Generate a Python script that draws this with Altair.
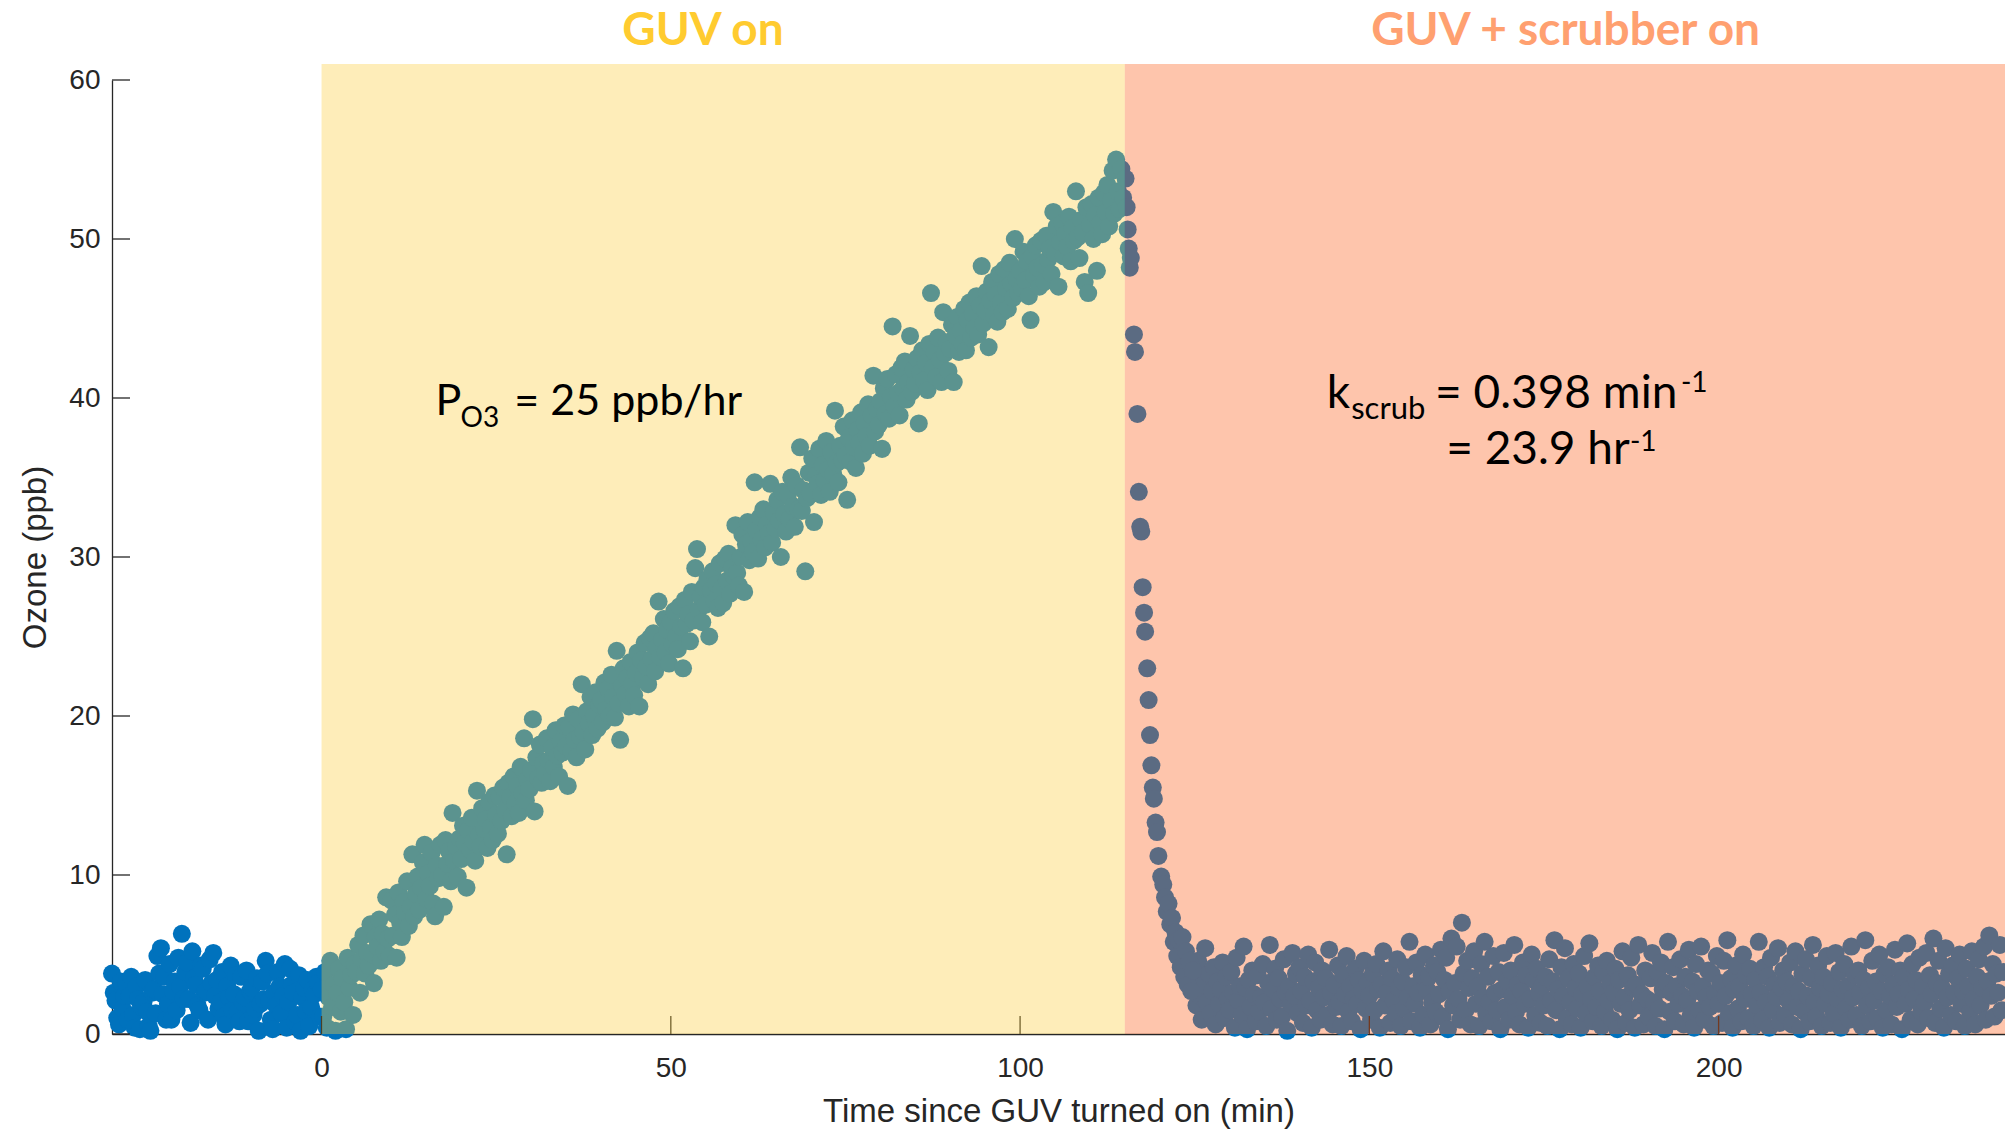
import altair as alt
import pandas as pd

# ---------------- data ----------------
STEP = 0.25  # sampling interval (min)

PRE_START = -30.0
PRE_Y = [
    3.8, 2.6, 2.1, 1.0, 0.6, 3.3, 1.6, 2.4, 3.2, 0.9, 2.4, 3.6, 1.2, 0.4, 3.0, 2.2, 0.3, 1.7, 2.0, 3.4,
    1.4, 0.5, 0.2, 2.6, 2.8, 1.3, 4.9, 3.8, 5.4, 2.5, 3.6, 0.9, 1.9, 4.4, 0.9, 2.7, 3.3, 1.5, 4.8, 3.0,
    6.3, 2.2, 3.9, 4.5, 2.2, 0.7, 5.2, 3.5, 3.1, 1.8, 1.5, 4.3, 4.1, 2.6, 2.7, 0.9, 4.7, 3.2, 5.1, 2.4,
    3.4, 1.6, 2.0, 3.9, 1.1, 0.6, 3.0, 2.3, 4.3, 1.5, 2.5, 3.7, 1.4, 0.8, 3.6, 2.0, 2.3, 4.0, 0.8, 2.7,
    2.9, 1.2, 1.6, 3.5, 0.2, 1.9, 3.3, 2.2, 4.6, 3.8, 2.1, 0.9, 0.3, 2.6, 1.8, 3.9, 3.0, 1.3, 2.4, 4.4,
    0.4, 2.0, 4.1, 3.1, 2.6, 0.8, 1.2, 3.7, 0.2, 2.3, 2.9, 1.4, 3.4, 0.5, 1.7, 2.8, 2.5, 3.6, 3.2, 1.1,
]

RAMP_START = 0.0
RAMP_Y = [
    2.8, 1.1, 3.9, 0.4, 2.3, 4.6, 1.7, 3.1, 0.2, 2.6, 4.1, 1.4, 3.5, 2.0, 0.3, 4.8, 2.9, 3.7, 1.2, 4.4,
    3.9, 5.6, 2.6, 4.7, 6.2, 3.8, 5.1, 4.3, 6.9, 5.0, 3.2, 6.1, 5.5, 7.2, 4.6, 6.3, 5.2, 8.6, 6.0, 4.9,
    8.4, 6.2, 7.5, 4.8, 8.9, 7.0, 6.1, 8.3, 7.6, 9.6, 6.8, 8.0, 11.3, 7.4, 8.8, 9.9, 7.8, 9.2, 10.8, 11.9,
    8.5, 10.1, 9.3, 11.4, 8.2, 7.4, 10.6, 9.8, 11.9, 10.0, 8.0, 12.2, 10.7, 11.5, 9.6, 13.9, 10.9, 11.8, 9.9, 12.3,
    11.0, 13.1, 12.0, 9.2, 12.8, 11.6, 13.6, 12.1, 10.9, 15.3, 12.5, 11.8, 14.2, 12.9, 13.5, 11.7, 14.6, 13.0, 12.2, 15.0,
    13.8, 12.6, 14.9, 13.4, 15.5, 14.1, 11.3, 15.8, 14.9, 13.7, 16.2, 14.5, 15.6, 13.9, 16.8, 15.1, 18.6, 14.7, 16.0, 15.4,
    16.6, 19.8, 14.0, 17.4, 16.1, 18.2, 15.8, 17.0, 16.4, 18.6, 17.2, 15.9, 18.0, 16.8, 19.1, 17.5, 16.2, 18.4, 17.7, 19.4,
    18.1, 15.6, 19.3, 17.8, 20.1, 18.5, 17.4, 19.8, 18.7, 22.0, 19.0, 17.9, 20.3, 19.5, 21.2, 18.8, 20.0, 21.5, 19.2, 20.7,
    21.0, 19.6, 22.1, 20.4, 21.7, 20.0, 22.6, 21.2, 19.9, 24.1, 20.8, 18.5, 21.9, 23.0, 21.4, 22.4, 20.6, 23.4, 22.0, 21.3,
    22.7, 24.0, 20.6, 23.5, 22.4, 24.6, 23.1, 22.0, 24.9, 23.6, 25.2, 22.8, 24.3, 27.2, 23.7, 24.8, 26.1, 24.0, 25.4, 23.3,
    25.9, 24.5, 26.6, 25.0, 24.2, 26.9, 25.6, 23.0, 27.3, 25.8, 26.4, 24.7, 27.8, 26.0, 29.3, 30.5, 26.7, 27.5, 25.9, 28.1,
    27.0, 28.6, 25.0, 27.9, 29.1, 27.2, 28.3, 26.8, 29.6, 28.0, 27.1, 29.9, 28.5, 30.2, 27.7, 29.3, 28.8, 32.0, 29.0, 28.2,
    30.0, 31.4, 27.8, 30.8, 32.2, 29.8, 31.0, 30.3, 34.7, 31.7, 29.9, 32.5, 31.1, 33.0, 30.6, 32.0, 31.5, 34.6, 30.9, 32.8,
    31.8, 33.6, 32.3, 30.0, 34.1, 32.7, 31.6, 33.9, 32.4, 35.0, 33.2, 31.9, 34.5, 33.0, 36.9, 32.9, 34.2, 29.1, 33.7, 35.3,
    34.0, 36.2, 32.2, 35.1, 34.6, 36.8, 33.9, 35.8, 34.8, 37.3, 35.5, 34.1, 36.6, 35.2, 39.2, 35.9, 34.7, 37.0, 36.1, 38.2,
    36.4, 33.6, 37.5, 36.0, 38.6, 36.9, 35.6, 38.0, 37.2, 39.1, 36.5, 38.4, 37.6, 39.6, 37.0, 38.9, 41.4, 37.9, 39.3, 38.3,
    39.8, 36.8, 40.6, 39.0, 41.2, 38.7, 40.1, 44.5, 39.5, 41.5, 40.3, 38.9, 41.9, 40.6, 42.3, 39.9, 41.0, 43.9, 40.4, 41.8,
    40.9, 42.5, 38.4, 41.6, 43.0, 41.1, 42.2, 40.5, 43.4, 46.6, 41.9, 42.9, 41.3, 43.8, 42.4, 41.0, 45.4, 42.8, 43.5, 41.7,
    43.1, 44.6, 41.0, 43.9, 45.1, 42.9, 44.2, 43.4, 45.6, 43.0, 44.9, 46.0, 43.8, 45.3, 44.4, 46.4, 44.0, 45.8, 48.3, 44.7,
    45.5, 46.7, 43.2, 46.1, 47.3, 45.2, 46.5, 44.8, 47.8, 46.0, 45.4, 48.1, 46.9, 45.6, 48.5, 47.2, 46.3, 50.0, 47.5, 46.6,
    48.0, 46.9, 49.2, 47.4, 48.6, 46.4, 44.9, 48.9, 47.7, 49.6, 48.2, 47.0, 49.9, 48.4, 47.3, 50.2, 48.7, 49.4, 47.8, 51.7,
    49.1, 50.8, 47.0, 49.8, 51.0, 48.9, 50.3, 49.5, 51.4, 48.6, 50.7, 49.9, 53.0, 50.1, 48.8, 51.2, 50.4, 47.3, 52.0, 46.6,
    50.9, 52.2, 50.0, 51.5, 48.0, 52.6, 51.0, 50.3, 52.9, 51.7, 53.4, 50.8, 52.4, 54.3, 51.6, 55.0, 53.0, 51.9, 54.4, 52.6,
]

DECAY_T = [115.1, 115.25, 115.4, 115.55, 115.7, 115.85, 116.3, 116.45, 116.8, 117.0, 117.2, 117.35,
           117.55, 117.75, 117.9, 118.2, 118.4, 118.6, 118.8, 119.0, 119.15, 119.4, 119.6, 119.8,
           120.2, 120.5, 120.75, 121.0, 121.25, 121.5, 121.75, 122.0, 122.25, 122.5, 122.75, 123.0,
           123.25, 123.5, 123.75, 124.0, 124.25, 124.5, 124.75]
DECAY_Y = [53.8, 52.0, 50.6, 49.4, 48.2, 48.8, 44.0, 42.9, 39.0, 34.1, 31.9, 31.6,
           28.1, 26.5, 25.3, 23.0, 21.0, 18.8, 16.9, 15.5, 14.8, 13.3, 12.7, 11.2,
           9.9, 9.4, 8.6, 7.7, 8.2, 6.9, 7.3, 5.8, 6.4, 4.9, 5.9, 4.2,
           6.1, 3.6, 5.2, 3.1, 4.6, 2.7, 4.0]

POST_START = 125.0
POST_Y = [
    3.5, 1.8, 4.6, 2.4, 0.9, 3.1, 5.4, 2.0, 3.8, 1.3, 2.7, 4.2, 0.6, 3.3, 1.9, 2.8, 4.5, 1.0, 3.6, 2.2,
    1.5, 3.9, 2.6, 0.4, 4.8, 2.1, 3.0, 1.2, 5.5, 2.9, 0.3, 3.4, 1.7, 4.0, 2.5, 0.8, 3.7, 1.4, 2.3, 4.4,
    2.0, 0.5, 3.2, 5.6, 1.6, 2.8, 4.1, 0.9, 3.5, 2.2, 1.1, 4.7, 2.6, 0.2, 3.0, 1.9, 5.1, 2.4, 3.8, 1.3,
    4.2, 2.7, 0.7, 3.6, 1.8, 5.0, 2.1, 0.4, 3.3, 4.5, 1.5, 2.9, 0.9, 4.0, 2.3, 3.5, 1.2, 5.3, 2.6, 0.6,
    3.1, 1.7, 4.3, 2.0, 0.5, 3.7, 2.5, 4.9, 1.4, 3.0, 0.8, 2.2, 4.1, 1.9, 3.4, 0.3, 2.7, 4.6, 1.6, 3.2,
    2.4, 0.9, 3.8, 1.5, 4.4, 2.8, 0.4, 3.1, 5.2, 1.8, 2.6, 4.0, 0.7, 3.5, 2.1, 1.3, 4.7, 2.9, 0.5, 3.3,
    1.6, 4.2, 2.3, 5.8, 0.8, 3.0, 1.9, 4.5, 2.6, 0.4, 3.7, 1.2, 5.0, 2.8, 3.6, 0.6, 2.0, 4.3, 1.4, 3.9,
    2.5, 5.3, 1.1, 3.4, 4.8, 0.3, 2.7, 6.0, 1.8, 3.2, 5.5, 2.2, 0.9, 7.0, 3.8, 1.5, 4.6, 2.9, 0.6, 3.5,
    5.2, 1.9, 3.0, 0.5, 4.4, 2.3, 5.8, 1.3, 3.6, 2.0, 0.8, 4.9, 2.6, 1.5, 3.9, 0.3, 2.8, 5.1, 1.7, 3.3,
    0.9, 4.0, 2.4, 5.6, 1.4, 3.1, 0.6, 2.7, 4.5, 1.9, 3.7, 0.4, 2.2, 5.0, 3.4, 1.2, 4.1, 2.6, 0.7, 3.0,
    1.8, 3.6, 0.5, 4.7, 2.1, 3.3, 5.9, 1.5, 2.8, 0.3, 4.2, 2.4, 5.4, 1.0, 3.5, 2.0, 0.6, 4.4, 2.9, 1.6,
    3.8, 0.4, 2.5, 4.9, 1.3, 3.0, 5.7, 2.2, 0.8, 3.6, 1.7, 4.3, 2.7, 0.5, 3.9, 1.4, 4.6, 2.1, 3.2, 0.9,
    2.6, 4.1, 0.3, 3.4, 1.9, 5.2, 2.3, 0.7, 3.7, 1.5, 4.8, 2.9, 0.4, 3.1, 5.6, 1.8, 2.5, 0.6, 4.0, 2.2,
    1.1, 3.5, 5.1, 2.0, 0.5, 3.9, 1.6, 4.5, 2.8, 0.3, 3.2, 5.8, 1.4, 2.6, 4.2, 0.8, 3.0, 1.9, 4.7, 2.4,
    0.6, 3.6, 2.1, 5.3, 1.2, 3.3, 0.4, 4.4, 2.7, 1.5, 5.5, 3.0, 0.9, 2.3, 4.0, 1.7, 3.8, 0.5, 2.6, 4.9,
    1.9, 3.2, 0.7, 4.6, 2.4, 5.9, 1.3, 3.5, 0.4, 2.8, 4.3, 1.6, 3.0, 0.8, 5.0, 2.2, 3.7, 1.0, 4.1, 2.5,
    0.5, 3.4, 1.8, 5.8, 2.6, 0.9, 4.2, 2.0, 3.6, 0.4, 4.8, 1.5, 3.1, 2.3, 5.4, 0.7, 2.9, 4.0, 1.2, 3.3,
    2.1, 4.5, 0.6, 3.0, 5.2, 1.7, 2.7, 0.3, 3.8, 1.4, 4.7, 2.4, 0.8, 3.5, 5.6, 2.0, 1.1, 4.3, 2.9, 0.5,
    3.6, 1.9, 4.9, 2.5, 0.7, 3.2, 1.3, 5.1, 2.2, 3.9, 0.4, 2.8, 4.4, 1.6, 3.0, 0.9, 5.5, 2.3, 3.7, 1.2,
    4.0, 2.6, 0.5, 3.4, 5.9, 1.8, 2.9, 0.8, 4.6, 2.1, 3.3, 1.0, 5.0, 2.7, 0.4, 3.8, 1.5, 4.2, 2.4, 0.6,
    3.1, 5.3, 1.7, 2.5, 4.0, 0.3, 3.6, 1.9, 5.7, 2.8, 0.9, 4.4, 2.2, 3.4, 0.6, 4.8, 1.4, 3.0, 2.0, 5.1,
    1.0, 3.7, 2.5, 6.0, 0.7, 3.2, 4.6, 1.6, 2.9, 0.4, 5.4, 2.3, 3.8, 1.2, 4.3, 2.6, 0.8, 3.5, 5.0, 1.9,
    2.7, 0.5, 4.1, 3.0, 1.4, 5.2, 2.2, 0.6, 3.6, 4.7, 1.8, 2.9, 5.5, 0.9, 3.3, 6.2, 2.4, 4.4, 1.1, 3.8,
    2.6, 5.6, 1.5, 3.9,
]

X_TICKS = [0, 50, 100, 150, 200]
Y_TICKS = [0, 10, 20, 30, 40, 50, 60]
X_DOMAIN = [-30, 241]
Y_DOMAIN = [0, 60]

PHASES = ["GUV on", "GUV + scrubber on"]
PHASE_START = [0, 115]
PHASE_END = [115, 241]
PHASE_TOP = 61

# ---------------- tables ----------------
rows = []
for start, ys in ((PRE_START, PRE_Y), (RAMP_START, RAMP_Y), (POST_START, POST_Y)):
    for i, v in enumerate(ys):
        rows.append({"t": start + STEP * i, "ozone": v})
for t, v in zip(DECAY_T, DECAY_Y):
    rows.append({"t": t, "ozone": v})
pts = pd.DataFrame(rows)

AXIS_COLOR = "#262626"
FONT = "Liberation Sans"

x_scale = alt.Scale(domain=X_DOMAIN, nice=False, zero=False)
y_scale = alt.Scale(domain=Y_DOMAIN, nice=False, zero=False)

points = alt.Chart(pts).mark_circle(size=325, opacity=1, color="#0072BD").encode(
    x=alt.X("t:Q", scale=x_scale,
            axis=alt.Axis(values=X_TICKS, ticks=False, grid=False, domainColor=AXIS_COLOR,
                          domainWidth=1.3, labelFont=FONT, labelFontSize=28, labelColor=AXIS_COLOR,
                          labelPadding=20, labelFlush=False,
                          title="Time since GUV turned on (min)", titleFont=FONT, titleFontSize=33,
                          titleFontWeight="normal", titleColor=AXIS_COLOR, titlePadding=13)),
    y=alt.Y("ozone:Q", scale=y_scale,
            axis=alt.Axis(values=Y_TICKS, ticks=False, grid=False, domainColor=AXIS_COLOR,
                          domainWidth=1.3, labelFont=FONT, labelFontSize=28, labelColor=AXIS_COLOR,
                          labelPadding=12, title="Ozone (ppb)", titleFont=FONT, titleFontSize=33,
                          titleFontWeight="normal", titleColor=AXIS_COLOR, titlePadding=16)),
)

xt = pd.DataFrame({"v": X_TICKS})
yt = pd.DataFrame({"v": Y_TICKS})
x_ticks = alt.Chart(xt).mark_rule(color=AXIS_COLOR, strokeWidth=1.3, y2Offset=-18).encode(
    x=alt.X("v:Q", scale=x_scale), y=alt.datum(0), y2=alt.datum(0))
y_ticks = alt.Chart(yt).mark_rule(color=AXIS_COLOR, strokeWidth=1.3, x2Offset=18).encode(
    y=alt.Y("v:Q", scale=y_scale), x=alt.datum(X_DOMAIN[0]), x2=alt.datum(X_DOMAIN[0]))

shade = pd.DataFrame({"phase": PHASES, "x0": PHASE_START, "x1": PHASE_END,
                      "y0": [0, 0], "y1": [PHASE_TOP, PHASE_TOP]})
rects = alt.Chart(shade).mark_rect(opacity=0.36).encode(
    x=alt.X("x0:Q", scale=x_scale), x2="x1:Q",
    y=alt.Y("y0:Q", scale=y_scale), y2="y1:Q",
    color=alt.Color("phase:N", scale=alt.Scale(domain=PHASES, range=["#FCCC3C", "#FC5E18"]), legend=None),
)

titles = pd.DataFrame({"text": PHASES, "x": [54.6, 178.1], "y": [62.2, 62.2]})
title_marks = alt.Chart(titles).mark_text(font="Lato", fontWeight="bold", fontSize=46,
                                          align="center", baseline="alphabetic").encode(
    x=alt.X("x:Q", scale=x_scale), y=alt.Y("y:Q", scale=y_scale), text="text:N",
    color=alt.Color("text:N", scale=alt.Scale(domain=PHASES, range=["#FFCB2F", "#FFA070"]), legend=None),
)

ann = pd.DataFrame([
    {"text": "P", "x": 16.3, "y": 38.96, "fs": 43},
    {"text": "O3", "x": 19.9, "y": 38.2, "fs": 28},
    {"text": "= 25 ppb/hr", "x": 27.6, "y": 38.96, "fs": 43},
    {"text": "k", "x": 143.9, "y": 39.4, "fs": 46},
    {"text": "scrub", "x": 147.4, "y": 38.7, "fs": 31},
    {"text": "= 0.398 min", "x": 159.4, "y": 39.4, "fs": 46},
    {"text": "-1", "x": 194.6, "y": 40.35, "fs": 28},
    {"text": "= 23.9 hr", "x": 161.0, "y": 35.82, "fs": 46},
    {"text": "-1", "x": 187.3, "y": 36.64, "fs": 28},
])
ann_marks = alt.Chart(ann).mark_text(font="Lato", align="left", baseline="alphabetic", color="#000000").encode(
    x=alt.X("x:Q", scale=x_scale), y=alt.Y("y:Q", scale=y_scale), text="text:N",
    size=alt.Size("fs:Q", scale=None, legend=None),
)

chart = alt.layer(points, x_ticks, y_ticks, rects, title_marks, ann_marks).resolve_scale(
    color="independent"
).properties(
    width=1893, height=954,
    autosize=alt.AutoSizeParams(type="none"),
    padding={"left": 112, "top": 80, "right": 0, "bottom": 98},
    background="#FFFFFF",
).configure_view(stroke=None)

chart.save("out.html", embed_options={"renderer": "svg", "actions": False})
